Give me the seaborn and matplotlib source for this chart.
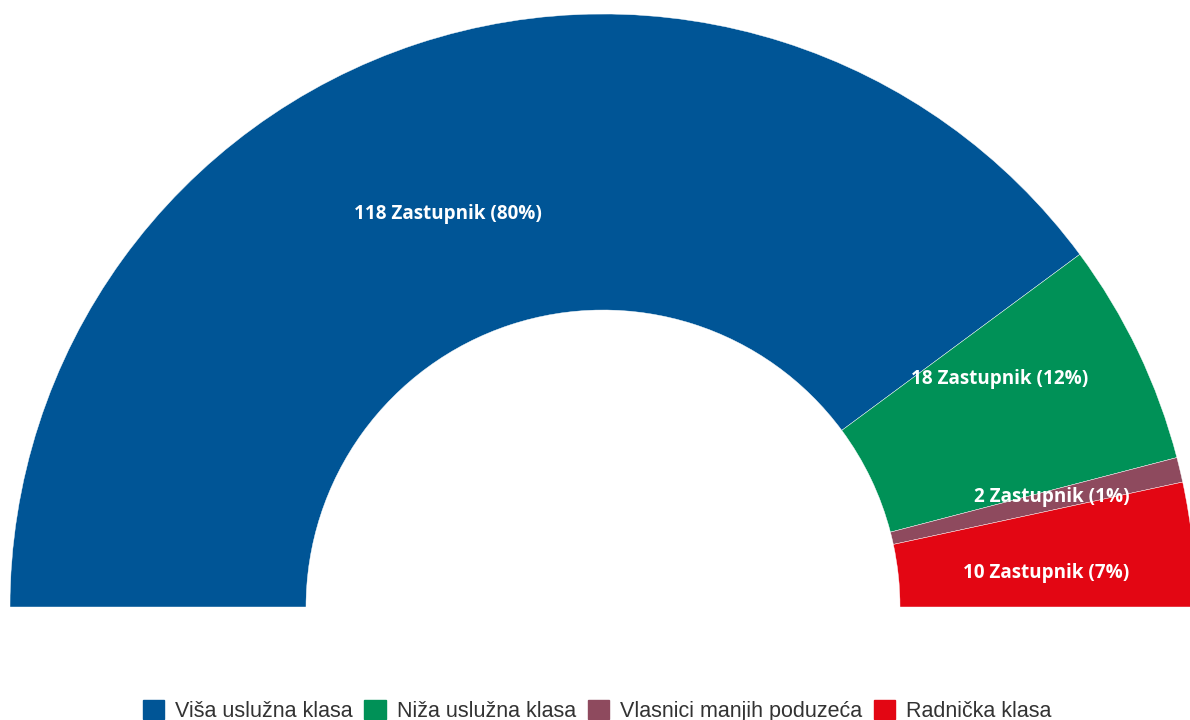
import matplotlib
matplotlib.use("Agg")
import matplotlib.pyplot as plt
import seaborn as sns
import numpy as np

categories = ["Viša uslužna klasa", "Niža uslužna klasa", "Vlasnici manjih poduzeća", "Radnička klasa"]
seats = [118, 18, 2, 10]
percent_labels = ["80%", "12%", "1%", "7%"]
unit = "Zastupnik"
colors = ["#005596", "#009157", "#8E4A5E", "#E30613"]

sns.set_theme(style="white")
palette = sns.color_palette(colors)

fig = plt.figure(figsize=(11.9, 7.2), dpi=100)
ax = fig.add_axes([0, 0, 1, 1])

W, H = 1190, 720
cx, cy = 603, H - 607
R = 593
ring = 296

total = sum(seats)
vals = seats + [total]  # hidden lower half
wedges, _ = ax.pie(vals, colors=list(palette) + ["none"], startangle=180, counterclock=False,
                   center=(cx, cy), radius=R,
                   wedgeprops=dict(width=ring, linewidth=0.3, edgecolor="white"))
wedges[-1].set_visible(False)

# label layout (radius, angle in degrees) per wedge
label_layout = [(422, 111.5), (458, 29.9), (462, 13.8), (444, 4.4)]
for (r, a), n, p in zip(label_layout, seats, percent_labels):
    x = cx + r * np.cos(np.radians(a))
    y = cy + r * np.sin(np.radians(a))
    ax.text(x, y, f"{n} {unit} ({p})", ha="center", va="center", color="white",
            fontsize=13.6, fontweight="bold", family=["Open Sans", "DejaVu Sans"])

ax.set_xlim(0, W)
ax.set_ylim(0, H)
ax.set_aspect("equal")
ax.axis("off")

handles = [plt.Rectangle((0, 0), 1, 1, color=c) for c in palette]
leg = fig.legend(handles, categories, loc="center", bbox_to_anchor=(597 / W, 1 - 711 / H),
                 ncol=4, frameon=False, handlelength=1.0, handleheight=1.0,
                 handletextpad=0.5, columnspacing=0.55,
                 prop=dict(family=["Liberation Sans", "DejaVu Sans"], size=15.5))
for t in leg.get_texts():
    t.set_color("#333333")

fig.savefig("out.png", dpi=100)
